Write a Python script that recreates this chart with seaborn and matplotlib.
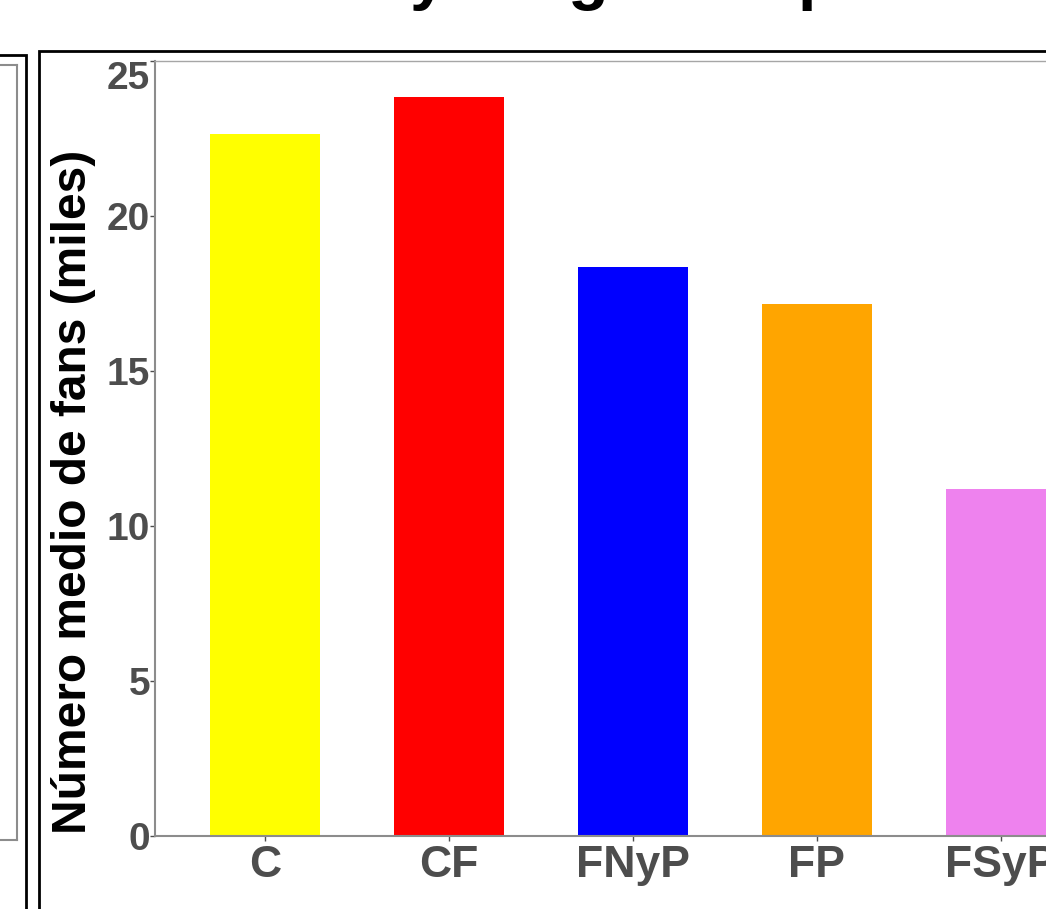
import matplotlib
matplotlib.use('Agg')
import matplotlib.pyplot as plt
import seaborn as sns
import pandas as pd
from matplotlib.patches import Rectangle

# Data
categorias = ['C', 'CF', 'FNyP', 'FP', 'FSyP']
fans_miles = [22.65, 23.85, 18.35, 17.15, 11.2]
colores = ['#FFFF00', '#FF0000', '#0000FF', '#FFA500', '#EE82EE']
y_ticks = [0, 5, 10, 15, 20, 25]

sns.set_theme(style='white')
plt.rcParams['font.family'] = ['Liberation Sans', 'DejaVu Sans']

W, H = 1046, 909
fig = plt.figure(figsize=(W / 100, H / 100), dpi=100)


def fx(px):
    return px / W


def fy(py):
    return 1 - py / H


df = pd.DataFrame({'tipo': categorias, 'fans': fans_miles})

# main panel (cropped on the right in the reference)
ax = fig.add_axes([fx(155), fy(836), fx(1111) - fx(155), fy(61) - fy(836)])
sns.barplot(data=df, x='tipo', y='fans', hue='tipo', palette=colores,
            saturation=1, width=0.6, linewidth=0, legend=False, ax=ax)
ax.set_xlim(-0.6, len(categorias) - 0.4)
ax.set_ylim(0, 25)
ax.set_yticks(y_ticks)
ax.set_yticklabels([str(t) for t in y_ticks])
ax.set_xlabel('')
ax.set_ylabel('Número medio de fans (miles)', fontsize=34.5, fontweight='bold',
              color='black')
ax.yaxis.set_label_coords(-0.062, 0.444)

for s in ax.spines.values():
    s.set_color('#8C8C8C')
    s.set_linewidth(1.5)
ax.spines['top'].set_linewidth(1.0)
ax.spines['top'].set_color('#A6A6A6')

ax.tick_params(axis='both', which='major', direction='out', length=3.5,
               width=1.0, color='#4D4D4D', left=True, bottom=True,
               labelcolor='#4D4D4D')
ax.tick_params(axis='y', labelsize=28, pad=0)
ax.tick_params(axis='x', labelsize=32, pad=3)
for lab in ax.get_yticklabels() + ax.get_xticklabels():
    lab.set_fontweight('bold')
ax.get_yticklabels()[-1].set_va('top')

# neighbouring panel on the left (mostly cut off)
ax_left = fig.add_axes([fx(-400), fy(840), fx(17) - fx(-400), fy(65) - fy(840)])
ax_left.set_xticks([])
ax_left.set_yticks([])
for s in ax_left.spines.values():
    s.set_color('#8C8C8C')
    s.set_linewidth(1.5)

# panel borders
fig.patches.append(Rectangle((fx(-400), fy(1000)), fx(26) - fx(-400), fy(55) - fy(1000),
                             transform=fig.transFigure, fill=False,
                             edgecolor='black', linewidth=2))
fig.patches.append(Rectangle((fx(39), fy(1000)), fx(1200) - fx(39), fy(51) - fy(1000),
                             transform=fig.transFigure, fill=False,
                             edgecolor='black', linewidth=2))

# title cut off at the top: only descenders remain visible
for ch, xpos in [('y', 428), ('g', 588), ('p', 818)]:
    fig.text(fx(xpos), fy(-3), ch, fontsize=48, fontweight='bold',
             ha='center', va='baseline', color='black')

fig.savefig('out.png', dpi=100)
plt.close(fig)
